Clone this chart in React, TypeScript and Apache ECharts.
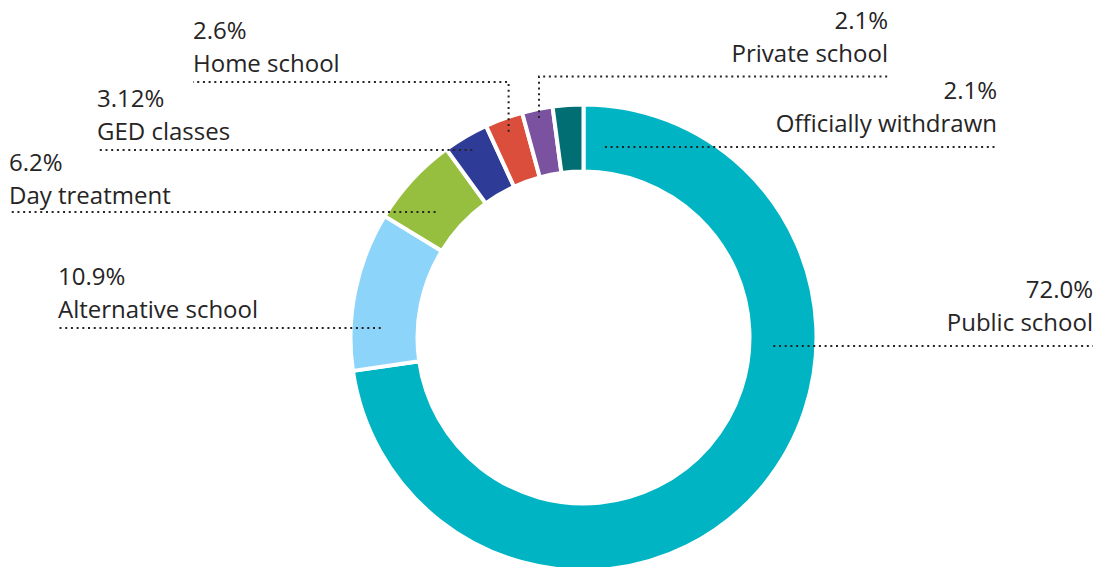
import React, { useEffect, useRef } from "react";
import * as echarts from "echarts";

// ---- data ----
const CATEGORIES = [
  "Public school",
  "Alternative school",
  "Day treatment",
  "GED classes",
  "Home school",
  "Private school",
  "Officially withdrawn",
];
const VALUES = [72.0, 10.9, 6.2, 3.12, 2.6, 2.1, 2.1];
const VALUE_LABELS = ["72.0%", "10.9%", "6.2%", "3.12%", "2.6%", "2.1%", "2.1%"];
const COLORS = ["#00B4C3", "#8DD4FA", "#97BF3F", "#2E3C97", "#DB4E3B", "#7A52A0", "#016E74"];

// ---- layout (label anchors, not data) ----
const CX = 583.5;
const CY = 337.5;
// side, text edge x, y of dotted line, gap from text to line, radius where line ends, elbow
const LABEL_LAYOUT = [
  { side: "right", edgeX: 1093, lineY: 346, gap: 8, endR: 190, elbow: false },
  { side: "left", edgeX: 58, lineY: 328, gap: 3, endR: 203, elbow: false },
  { side: "left", edgeX: 9, lineY: 212, gap: 1.5, endR: 194, elbow: false },
  { side: "left", edgeX: 97, lineY: 150, gap: 3.5, endR: 218, elbow: false },
  { side: "left", edgeX: 193, lineY: 82, gap: 3, endR: 219, elbow: true },
  { side: "right", edgeX: 888, lineY: 76.5, gap: 8, endR: 224, elbow: true },
  { side: "right", edgeX: 997, lineY: 147, gap: 8, endR: 191.7, elbow: false },
];

const TOTAL = VALUES.reduce((a, b) => a + b, 0);
function midAngle(i: number) {
  let before = 0;
  for (let k = 0; k < i; k++) before += VALUES[k];
  const frac = (before + VALUES[i] / 2) / TOTAL;
  return frac * Math.PI * 2; // clockwise from top
}

function leaderPoints(i: number): number[][] {
  const L = LABEL_LAYOUT[i];
  const sign = L.side === "right" ? 1 : -1;
  if (L.elbow) {
    const a = midAngle(i);
    const ex = CX + L.endR * Math.sin(a);
    const ey = CY - L.endR * Math.cos(a);
    return [
      [ex, ey],
      [ex, L.lineY],
      [L.edgeX, L.lineY],
    ];
  }
  const dy = L.lineY - CY;
  const ex = CX + sign * Math.sqrt(Math.max(0, L.endR * L.endR - dy * dy));
  return [
    [ex, L.lineY],
    [L.edgeX, L.lineY],
  ];
}

export default function App() {
  const ref = useRef<HTMLDivElement>(null);
  useEffect(() => {
    if (!ref.current) return;
    const chart = echarts.init(ref.current, null, { renderer: "svg" });
    const data = CATEGORIES.map((name, i) => ({
      name,
      value: VALUES[i],
      itemStyle: { color: COLORS[i] },
    }));
    chart.setOption({
      animation: false,
      graphic: CATEGORIES.map((_, i) => ({
        type: "polyline",
        z: 100,
        silent: true,
        shape: { points: leaderPoints(i) },
        style: { stroke: "#262425", lineWidth: 2, lineDash: [2, 3.7], fill: null },
      })),
      series: [
        {
          type: "pie",
          center: [CX, CY],
          radius: [166, 233],
          startAngle: 90,
          clockwise: true,
          avoidLabelOverlap: false,
          itemStyle: { borderColor: "#ffffff", borderWidth: 4 },
          label: {
            show: true,
            position: "outside",
            formatter: (p: any) => VALUE_LABELS[p.dataIndex] + "\n" + p.name,
            fontFamily: "Open Sans",
            fontSize: 24,
            lineHeight: 33,
            color: "#262425",
          },
          labelLine: { show: false },
          labelLayout: (params: any) => {
            const L = LABEL_LAYOUT[params.dataIndex];
            return {
              x: L.edgeX,
              y: L.lineY - L.gap,
              align: L.side === "right" ? "right" : "left",
              verticalAlign: "bottom",
            };
          },
          emphasis: { disabled: true },
          data,
        },
      ],
    });
    return () => chart.dispose();
  }, []);
  return (
    <div
      ref={ref}
      style={{ position: "fixed", left: 0, top: 0, width: 1102, height: 567, background: "#fff" }}
    />
  );
}
